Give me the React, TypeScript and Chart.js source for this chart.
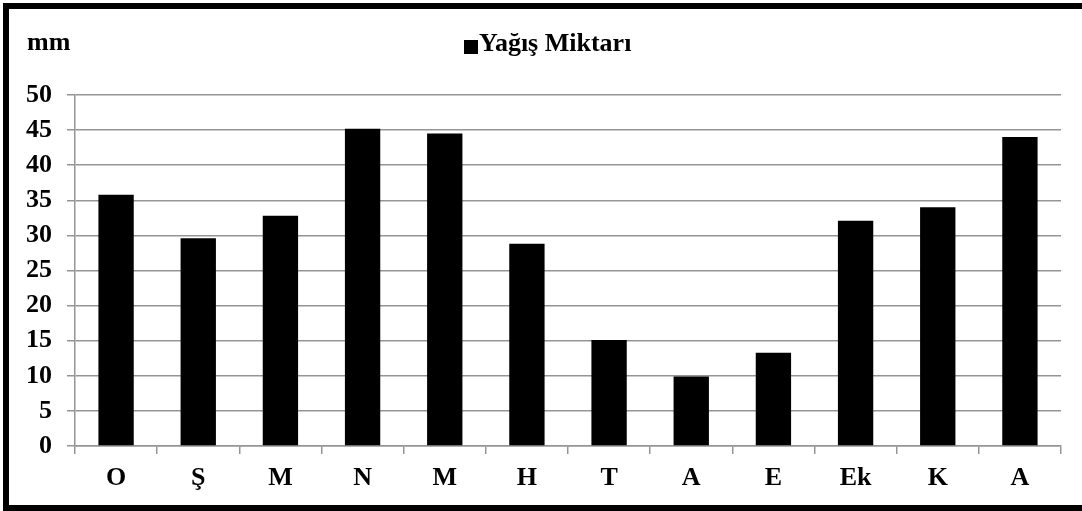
import React, { useEffect, useRef } from 'react';
import { Chart, registerables } from 'chart.js';

Chart.register(...registerables);

const categories = ['O', 'Ş', 'M', 'N', 'M', 'H', 'T', 'A', 'E', 'Ek', 'K', 'A'];
const rainfall = [35.8, 29.6, 32.8, 45.2, 44.5, 28.8, 15.1, 9.9, 13.3, 32.1, 34.0, 44.0];
const seriesLabel = 'Yağış Miktarı';
const unitLabel = 'mm';
const yMin = 0;
const yMax = 50;
const yStep = 5;

const FONT = '"Liberation Serif", "Times New Roman", serif';
const GRID = '#959595';
const FONT_SIZE = 26;

const headerPlugin = {
  id: 'header',
  afterDraw(chart: any) {
    const ctx = chart.ctx;
    ctx.save();
    ctx.fillStyle = '#000';
    ctx.font = `bold ${FONT_SIZE}px ${FONT}`;
    ctx.textBaseline = 'alphabetic';
    ctx.textAlign = 'left';
    ctx.fillText(unitLabel, 27, 50);
    ctx.fillRect(464, 40, 14, 14);
    ctx.fillText(chart.data.datasets[0].label, 479, 51);
    ctx.restore();
  },
};

export default function App() {
  const ref = useRef<HTMLCanvasElement | null>(null);

  useEffect(() => {
    if (!ref.current) return;
    const chart = new Chart(ref.current, {
      type: 'bar',
      data: {
        labels: categories,
        datasets: [
          {
            label: seriesLabel,
            data: rainfall,
            backgroundColor: '#000',
            borderWidth: 0,
            categoryPercentage: 1,
            barPercentage: 0.43,
          },
        ],
      },
      options: {
        responsive: false,
        animation: false,
        layout: { padding: { top: 95, right: 21, bottom: 0, left: 0 } },
        plugins: {
          legend: { display: false },
          tooltip: { enabled: false },
        },
        scales: {
          x: {
            afterFit: (s: any) => {
              s.height = 65;
            },
            grid: {
              offset: true,
              drawOnChartArea: false,
              color: GRID,
              lineWidth: 1.5,
              tickLength: 8,
            },
            border: { display: true, color: GRID, width: 1.5 },
            ticks: {
              color: '#000',
              font: { family: FONT, size: FONT_SIZE, weight: 'bold' },
              padding: 9,
              maxRotation: 0,
            },
          },
          y: {
            min: yMin,
            max: yMax,
            afterFit: (s: any) => {
              s.width = 75;
            },
            grid: {
              color: GRID,
              lineWidth: 1.5,
              tickLength: 8,
            },
            border: { display: true, color: GRID, width: 1.5 },
            ticks: {
              stepSize: yStep,
              color: '#000',
              font: { family: FONT, size: FONT_SIZE, weight: 'bold' },
              padding: 15,
            },
          },
        },
      },
      plugins: [headerPlugin],
    });
    return () => chart.destroy();
  }, []);

  return (
    <div style={{ position: 'fixed', left: 0, top: 0, width: 1082, height: 511, background: '#fff', overflow: 'hidden' }}>
      <canvas ref={ref} width={1082} height={511} style={{ position: 'absolute', left: 0, top: 0, width: 1082, height: 511 }} />
      <div
        style={{
          position: 'absolute',
          left: 3,
          top: 3,
          width: 1100,
          height: 508,
          border: '6px solid #000',
          boxSizing: 'border-box',
          pointerEvents: 'none',
        }}
      />
    </div>
  );
}
